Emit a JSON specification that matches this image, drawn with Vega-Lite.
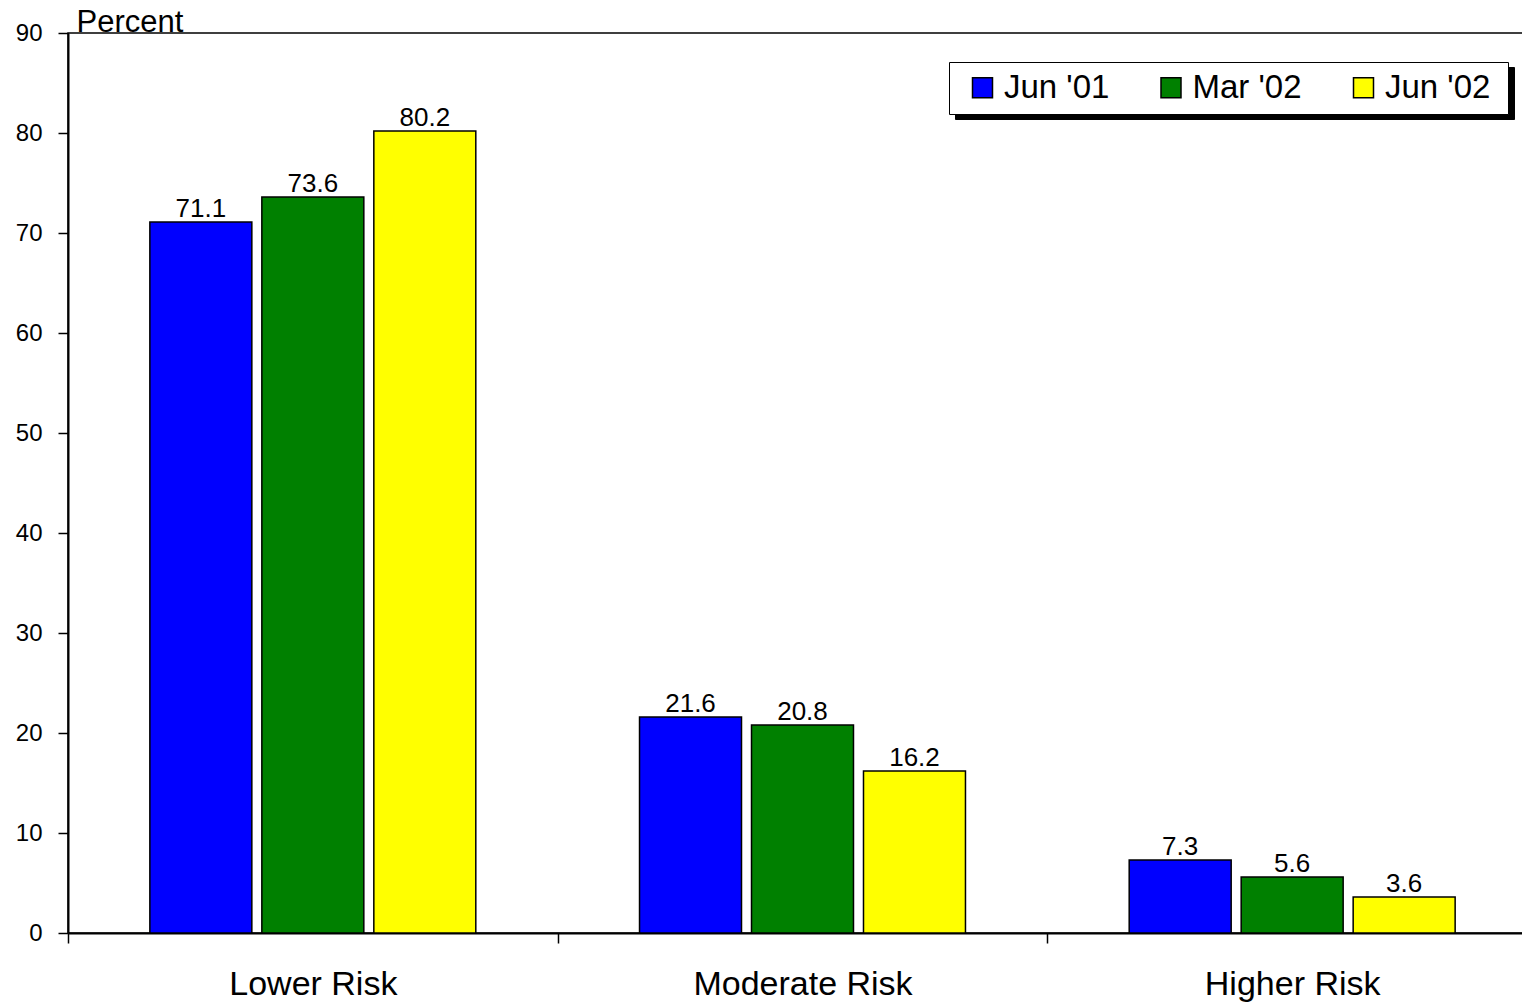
{
  "$schema": "https://vega.github.io/schema/vega-lite/v6.json",
  "width": 1469,
  "height": 900,
  "autosize": {"type": "none"},
  "padding": {"left": 68, "top": 33, "right": 0, "bottom": 70},
  "background": "white",
  "config": {
    "font": "Liberation Sans",
    "view": {"stroke": "black", "strokeWidth": 1.5}
  },
  "data": {
    "values": [
      {"risk": "Lower Risk", "period": "Jun '01", "pct": 71.1},
      {"risk": "Lower Risk", "period": "Mar '02", "pct": 73.6},
      {"risk": "Lower Risk", "period": "Jun '02", "pct": 80.2},
      {"risk": "Moderate Risk", "period": "Jun '01", "pct": 21.6},
      {"risk": "Moderate Risk", "period": "Mar '02", "pct": 20.8},
      {"risk": "Moderate Risk", "period": "Jun '02", "pct": 16.2},
      {"risk": "Higher Risk", "period": "Jun '01", "pct": 7.3},
      {"risk": "Higher Risk", "period": "Mar '02", "pct": 5.6},
      {"risk": "Higher Risk", "period": "Jun '02", "pct": 3.6}
    ]
  },
  "encoding": {
    "x": {
      "field": "risk",
      "type": "nominal",
      "sort": ["Lower Risk", "Moderate Risk", "Higher Risk"],
      "scale": {"paddingInner": 0, "paddingOuter": 0},
      "axis": {
        "title": null,
        "labelAngle": 0,
        "labelFontSize": 34,
        "labelColor": "black",
        "labelPadding": 24,
        "labelLimit": 0,
        "tickBand": "extent",
        "tickSize": 10,
        "tickColor": "black",
        "tickWidth": 1.5,
        "domainColor": "black",
        "domainWidth": 2
      }
    },
    "xOffset": {
      "field": "period",
      "type": "nominal",
      "sort": ["Jun '01", "Mar '02", "Jun '02"],
      "scale": {"paddingInner": 0.0893, "paddingOuter": 0.731}
    },
    "y": {
      "field": "pct",
      "type": "quantitative",
      "scale": {"domain": [0, 90], "nice": false},
      "axis": {
        "values": [0, 10, 20, 30, 40, 50, 60, 70, 80, 90],
        "grid": false,
        "labelFontSize": 24,
        "labelColor": "black",
        "labelPadding": 16,
        "tickSize": 10,
        "tickColor": "black",
        "tickWidth": 1.5,
        "domainColor": "black",
        "domainWidth": 2,
        "title": "Percent",
        "titleAngle": 0,
        "titleAlign": "left",
        "titleBaseline": "alphabetic",
        "titleX": 8,
        "titleY": -2,
        "titleFontSize": 31,
        "titleFontWeight": "normal",
        "titleColor": "black"
      }
    }
  },
  "layer": [
    {
      "mark": {"type": "bar", "strokeWidth": 1.5},
      "encoding": {
        "fill": {
          "field": "period",
          "type": "nominal",
          "scale": {
            "domain": ["Jun '01", "Mar '02", "Jun '02"],
            "range": ["#0000ff", "#008000", "#ffff00"]
          },
          "legend": {
            "title": " ",
            "titleOrient": "right",
            "titleFontSize": 10,
            "titlePadding": 9,
            "orient": "top-right",
            "offset": 29,
            "direction": "horizontal",
            "labelFontSize": 33,
            "labelColor": "black",
            "labelOffset": 5,
            "symbolOffset": 8,
            "columnPadding": 36.5,
            "symbolType": "square",
            "symbolSize": 400,
            "symbolStrokeColor": "black",
            "symbolStrokeWidth": 1.5,
            "fillColor": "white",
            "strokeColor": "black",
            "padding": 9,
            "zindex": 2
          }
        },
        "stroke": {
          "field": "period",
          "type": "nominal",
          "scale": {
            "domain": ["Jun '01", "Mar '02", "Jun '02"],
            "range": ["black", "black", "black"]
          },
          "legend": {
            "title": " ",
            "titleOrient": "right",
            "titleFontSize": 10,
            "titlePadding": 9,
            "orient": "none",
            "legendX": 887,
            "legendY": 34,
            "direction": "horizontal",
            "labelFontSize": 33,
            "labelColor": "black",
            "labelOffset": 5,
            "symbolOffset": 8,
            "columnPadding": 36.5,
            "symbolType": "square",
            "symbolSize": 400,
            "symbolFillColor": "black",
            "symbolStrokeColor": "black",
            "symbolStrokeWidth": 1.5,
            "fillColor": "black",
            "strokeColor": "black",
            "padding": 9,
            "zindex": 1
          }
        }
      }
    },
    {
      "mark": {"type": "text", "baseline": "alphabetic", "dy": -5, "fontSize": 26, "color": "black"},
      "encoding": {
        "text": {"field": "pct", "type": "quantitative", "format": ".1f"}
      }
    }
  ]
}
